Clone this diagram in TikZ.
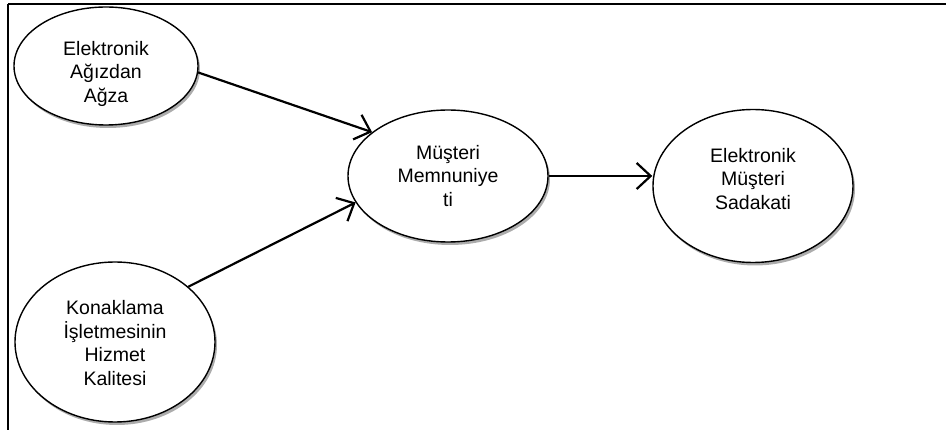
\documentclass[tikz,border=0pt]{standalone}
\usepackage{fontspec}
\setmainfont{Liberation Sans}
\usepackage{tikz}
\usetikzlibrary{
  arrows.meta,
  shapes.geometric,
  shadows,
}

% lines of an oval, raised by #1
\newcommand{\ovaltext}[2][0pt]{\raisebox{#1}[\height][\depth]{\begin{tabular}{@{}c@{}}#2\end{tabular}}}

\begin{document}
\begin{tikzpicture}[
  x=1pt, y=-1pt,
  font=\fontsize{19.5}{23.5}\selectfont,
  oval/.style={ellipse, draw=black, line width=1.4pt, fill=white, inner sep=0pt,
               drop shadow={shadow xshift=2pt, shadow yshift=-3pt, fill=gray!65, opacity=1}},
  arrow/.style={-{Straight Barb[length=14pt, width=26pt, line width=2.2pt]},
                line width=2.2pt},
]
\useasboundingbox (0,0) rectangle (946,430);

% frame
\draw[line width=2.4pt] (946,4) -- (8,4);
\draw[line width=2pt] (8,4) -- (8,430);

\node[oval, minimum width=184, minimum height=118] (ewom)  at (106,66)
  {\ovaltext[-8pt]{Elektronik\\Ağızdan\\Ağza}};
\node[oval, minimum width=200, minimum height=160] (hotel) at (115,342)
  {\ovaltext[-3pt]{Konaklama\\İşletmesinin\\Hizmet\\Kalitesi}};
\node[oval, minimum width=200, minimum height=132] (satis) at (448,176)
  {\ovaltext[-2pt]{Müşteri\\Memnuniye\\ti}};
\node[oval, minimum width=200, minimum height=153] (loyal) at (753,186)
  {\ovaltext[5pt]{Elektronik\\Müşteri\\Sadakati}};

\draw[arrow] (ewom.-4) -- (satis.150);
\draw[arrow] (hotel.37) -- (satis.196);
\draw[arrow] (satis.east) -- (satis.east -| loyal.west);

\end{tikzpicture}
\end{document}
